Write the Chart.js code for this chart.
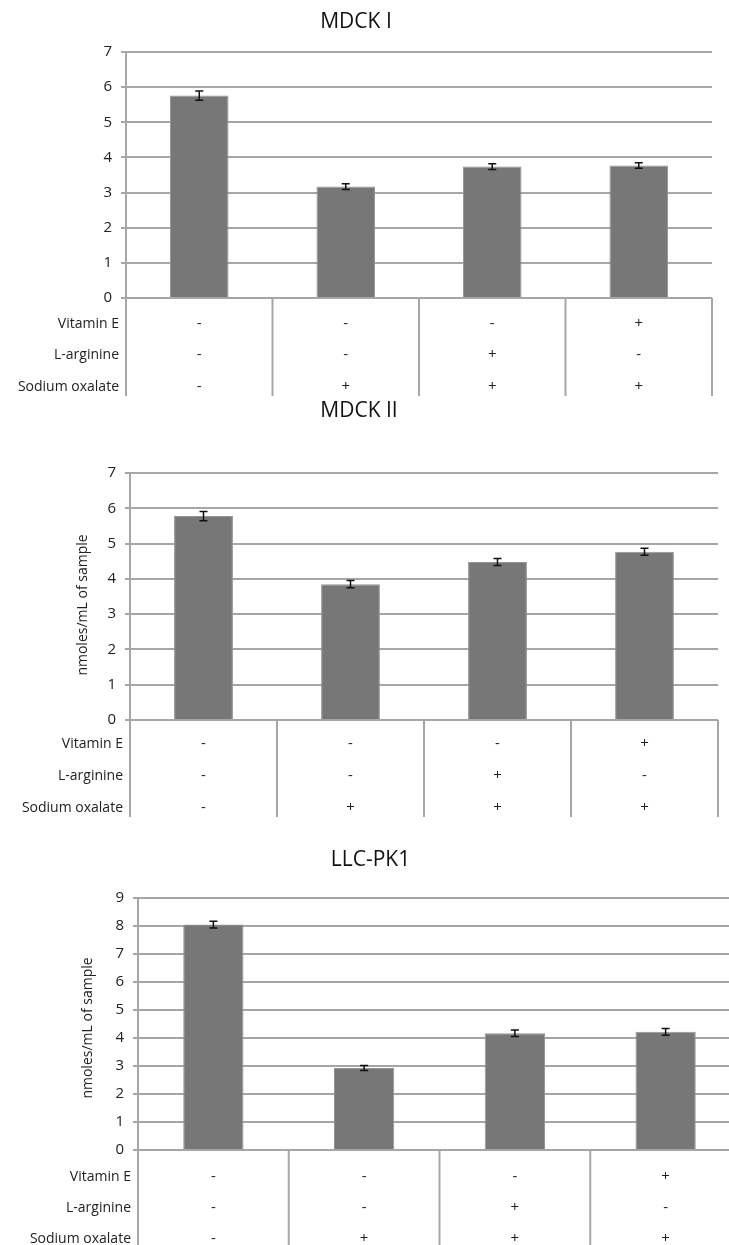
<!DOCTYPE html>
<html>
<head>
<meta charset="utf-8">
<script src="https://cdn.jsdelivr.net/npm/chart.js@4.4.1/dist/chart.umd.min.js"></script>
<style>
    html, body { margin: 0; padding: 0; background: #fff; overflow: hidden; width: 729px; height: 1245px; }
    .box { position: absolute; left: 0; }
</style>
</head>
<body>
<div class="box" style="top:0px"><canvas id="c1" width="729" height="400"></canvas></div>
<div class="box" style="top:385px"><canvas id="c2" width="729" height="435"></canvas></div>
<div class="box" style="top:830px"><canvas id="c3" width="745" height="415"></canvas></div>
<script>
// define data
const groups = ["Control", "Oxalate", "Oxalate + L-arginine", "Oxalate + Vitamin E"];
const rowNames = ["Vitamin E", "L-arginine", "Sodium oxalate"];
const vitaminE = ["-", "-", "-", "+"];
const lArginine = ["-", "-", "+", "-"];
const sodiumOxalate = ["-", "+", "+", "+"];

const mdck1Values = [5.76, 3.17, 3.74, 3.77];
const mdck1Errors = [0.13, 0.08, 0.08, 0.08];
const mdck2Values = [5.78, 3.85, 4.48, 4.77];
const mdck2Errors = [0.13, 0.10, 0.10, 0.10];
const llcValues = [8.05, 2.93, 4.17, 4.22];
const llcErrors = [0.12, 0.09, 0.12, 0.12];

const yTitle = "nmoles/mL of sample";
const fontFamily = "'Open Sans', 'DejaVu Sans', sans-serif";
const gridColor = "#a6a6a6";
const tableRows = [vitaminE, lArginine, sodiumOxalate];

// error bars, y title and the little table under the bars
const extrasPlugin = {
    id: "extras",
    afterDatasetsDraw(chart, args, opts) {
        const ctx = chart.ctx;
        const y = chart.scales.y;
        const meta = chart.getDatasetMeta(0);
        ctx.save();
        ctx.strokeStyle = "#111";
        ctx.lineWidth = 1.5;
        meta.data.forEach((bar, i) => {
            const v = chart.data.datasets[0].data[i];
            const e = opts.errors[i];
            const top = y.getPixelForValue(v + e);
            const bottom = y.getPixelForValue(v - e);
            ctx.beginPath();
            ctx.moveTo(bar.x, top); ctx.lineTo(bar.x, bottom);
            ctx.moveTo(bar.x - 4, top); ctx.lineTo(bar.x + 4, top);
            ctx.moveTo(bar.x - 4, bottom); ctx.lineTo(bar.x + 4, bottom);
            ctx.stroke();
        });
        ctx.restore();
    },
    afterDraw(chart, args, opts) {
        const ctx = chart.ctx;
        const area = chart.chartArea;
        const x = chart.scales.x;
        ctx.save();
        // vertical separators between groups
        ctx.strokeStyle = gridColor;
        ctx.lineWidth = 2;
        for (let i = 0; i <= groups.length; i++) {
            const px = i === 0 ? area.left : i === groups.length ? area.right : (x.getPixelForValue(i - 1) + x.getPixelForValue(i)) / 2;
            ctx.beginPath();
            ctx.moveTo(px, area.bottom);
            ctx.lineTo(px, area.bottom + opts.tableBottom);
            ctx.stroke();
        }
        ctx.fillStyle = "#222";
        ctx.textBaseline = "middle";
        rowNames.forEach((name, r) => {
            const py = area.bottom + opts.rows[r];
            ctx.font = "14px " + fontFamily;
            ctx.textAlign = "right";
            ctx.fillText(name, area.left - 7, py);
            ctx.textAlign = "center";
            ctx.font = "15px " + fontFamily;
            tableRows[r].forEach((sign, i) => {
                ctx.fillText(sign, x.getPixelForValue(i), py);
            });
        });
        if (opts.yTitle) {
            ctx.translate(opts.yTitle.x, opts.yTitle.y);
            ctx.rotate(-Math.PI / 2);
            ctx.font = "14px " + fontFamily;
            ctx.fillText(yTitle, 0, 0);
        }
        ctx.restore();
    }
};

let makeChart = (id, title, values, errors, cfg) => {
    return new Chart(document.getElementById(id), {
        type: "bar",
        data: {
            labels: groups,
            datasets: [{
                data: values,
                backgroundColor: "#777777",
                borderColor: "#959595",
                borderWidth: 1,
                barPercentage: 0.4,
                categoryPercentage: 1
            }]
        },
        options: {
            responsive: false,
            animation: false,
            layout: { padding: { left: 0, right: cfg.padRight, top: 0, bottom: 0 } },
            scales: {
                x: {
                    grid: { display: false },
                    border: { display: false },
                    ticks: { display: false },
                    afterFit: (scale) => { scale.height = cfg.tableHeight; }
                },
                y: {
                    min: 0,
                    max: cfg.yMax,
                    ticks: { stepSize: 1, padding: 9, color: "#222", font: { size: 15, family: fontFamily } },
                    grid: { color: gridColor, lineWidth: 2, tickLength: 5 },
                    border: { color: gridColor, width: 2 },
                    afterFit: (scale) => { scale.width = cfg.axisLeft; }
                }
            },
            plugins: {
                legend: { display: false },
                tooltip: { enabled: false },
                title: {
                    display: true,
                    text: title,
                    color: "#111",
                    font: { size: 21, family: fontFamily, weight: "normal" },
                    padding: { top: cfg.titleTop, bottom: cfg.titleBottom }
                },
                extras: { errors: errors, rows: cfg.rows, tableBottom: cfg.tableBottom, yTitle: cfg.yTitle }
            }
        },
        plugins: [extrasPlugin]
    });
};

const chart1 = makeChart("c1", "MDCK I", mdck1Values, mdck1Errors, {
    yMax: 7, padRight: 17, axisLeft: 126, tableHeight: 102,
    titleTop: 9, titleBottom: 17.8, rows: [26, 57, 89], tableBottom: 98, yTitle: null
});
const chart2 = makeChart("c2", "MDCK II", mdck2Values, mdck2Errors, {
    yMax: 7, padRight: 11, axisLeft: 130, tableHeight: 100,
    titleTop: 13, titleBottom: 49.8, rows: [24, 56, 88], tableBottom: 97, yTitle: { x: 83, y: 220 }
});
const chart3 = makeChart("c3", "LLC-PK1", llcValues, llcErrors, {
    yMax: 9, padRight: 4, axisLeft: 138, tableHeight: 95,
    titleTop: 17.4, titleBottom: 25.4, rows: [27, 58, 89], tableBottom: 95, yTitle: { x: 88, y: 198 }
});
</script>
</body>
</html>
